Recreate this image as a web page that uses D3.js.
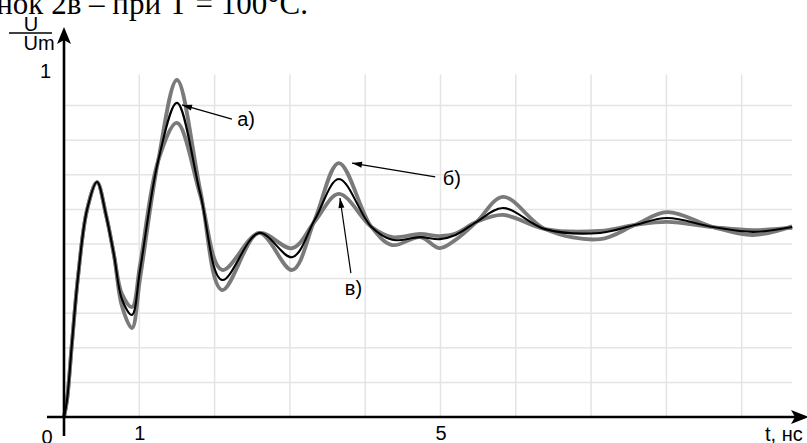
<!DOCTYPE html>
<html>
<head>
<meta charset="utf-8">
<script src="https://cdn.jsdelivr.net/npm/d3@7"></script>
<style>
  body { margin: 0; background: #fff; }
  svg { display: block; }
</style>
</head>
<body>
<svg id="chart" width="807" height="443"></svg>
<script>
// time, ns
const times = [0, 0.04, 0.106, 0.186, 0.305, 0.438, 0.558, 0.664, 0.77, 0.903, 1.01, 1.25, 1.5, 1.81, 2.1,
  2.59, 3.03, 3.33, 3.65, 4.08, 4.36, 4.73, 4.99, 5.2, 5.48, 5.83, 6.39, 7.12, 7.58, 8.01, 8.62, 9.15, 9.67];
// U/Um, curve a)
const curveA = [0, 0.049, 0.214, 0.405, 0.598, 0.679, 0.584, 0.468, 0.34, 0.295, 0.425, 0.74, 0.908, 0.645, 0.396,
  0.532, 0.462, 0.57, 0.688, 0.55, 0.512, 0.52, 0.514, 0.526, 0.564, 0.604, 0.543, 0.532, 0.555, 0.575, 0.549, 0.535, 0.549];
// curve б)
const curveB = [0, 0.049, 0.214, 0.405, 0.598, 0.679, 0.584, 0.468, 0.32, 0.257, 0.4, 0.74, 0.974, 0.655, 0.367,
  0.532, 0.425, 0.57, 0.734, 0.55, 0.497, 0.52, 0.488, 0.512, 0.564, 0.636, 0.543, 0.514, 0.555, 0.592, 0.549, 0.526, 0.551];
// curve в)
const curveV = [0, 0.049, 0.214, 0.405, 0.598, 0.679, 0.584, 0.468, 0.355, 0.318, 0.44, 0.74, 0.85, 0.64, 0.425,
  0.532, 0.488, 0.565, 0.645, 0.55, 0.52, 0.529, 0.523, 0.53, 0.564, 0.584, 0.543, 0.538, 0.555, 0.564, 0.549, 0.54, 0.547];

const xTickValues = [1, 5];
const yTickValues = [1];
const xGridValues = [1, 2, 3, 4, 5, 6, 7, 8, 9];
const yGridValues = [0.1, 0.2, 0.3, 0.4, 0.5, 0.6, 0.7, 0.8, 0.9];

// label, text position, arrow start, arrow tip (data units)
const notes = [
  { text: 'а)', at: [2.3, 0.841], from: [2.23, 0.861], to: [1.567, 0.902] },
  { text: 'б)', at: [5.03, 0.671], from: [4.93, 0.694], to: [3.825, 0.734] },
  { text: 'в)', at: [3.73, 0.353], from: [3.81, 0.416], to: [3.665, 0.633] },
];

const svg = d3.select('#chart');
const x = d3.scaleLinear().domain([0, 10]).range([64, 817]);
const y = d3.scaleLinear().domain([0, 1]).range([417, 71]);
const font = 'Liberation Sans, Arial, sans-serif';

// caption from the page above, cut off by the top edge
svg.append('text')
  .attr('x', 308)
  .attr('y', 14)
  .attr('text-anchor', 'end')
  .attr('font-family', 'Liberation Serif, Times New Roman, serif')
  .attr('font-size', 31)
  .text('Рисунок 2в – при Т = 100°С.');

// grid
svg.append('g')
  .selectAll('line')
  .data(xGridValues)
  .enter()
  .append('line')
  .attr('x1', d => x(d))
  .attr('x2', d => x(d))
  .attr('y1', y(0))
  .attr('y2', y(0.99))
  .attr('stroke', '#e4e4e4')
  .attr('stroke-width', 1.5);

svg.append('g')
  .selectAll('line')
  .data(yGridValues)
  .enter()
  .append('line')
  .attr('x1', x(0))
  .attr('x2', x(9.67))
  .attr('y1', d => y(d))
  .attr('y2', d => y(d))
  .attr('stroke', '#e4e4e4')
  .attr('stroke-width', 1.5);

// curves
const line = d3.line()
  .x((d, i) => x(times[i]))
  .y(d => y(d))
  .curve(d3.curveCatmullRom.alpha(0.5));

[curveB, curveV].forEach((vals) => {
  svg.append('path')
    .datum(vals)
    .attr('d', line)
    .attr('fill', 'none')
    .attr('stroke', '#7a7a7a')
    .attr('stroke-width', 3.8)
    .attr('stroke-linejoin', 'round');
});

svg.append('path')
  .datum(curveA)
  .attr('d', line)
  .attr('fill', 'none')
  .attr('stroke', '#000')
  .attr('stroke-width', 2.1)
  .attr('stroke-linejoin', 'round');

// axes
svg.append('line')
  .attr('x1', x(0)).attr('x2', x(0))
  .attr('y1', 436).attr('y2', 40)
  .attr('stroke', '#000').attr('stroke-width', 2.6);
svg.append('path')
  .attr('d', `M${x(0)},27 L${x(0) + 7},44 L${x(0)},40 L${x(0) - 7},44 Z`)
  .attr('fill', '#000');

svg.append('line')
  .attr('x1', 47).attr('x2', 795)
  .attr('y1', y(0)).attr('y2', y(0))
  .attr('stroke', '#000').attr('stroke-width', 2.6);
svg.append('path')
  .attr('d', `M809,${y(0)} L791,${y(0) - 7} L795,${y(0)} L791,${y(0) + 7} Z`)
  .attr('fill', '#000');

const xAxis = svg.append('g')
  .attr('transform', `translate(0,${y(0)})`)
  .call(d3.axisBottom(x).tickValues(xTickValues).tickSize(0).tickPadding(9).tickFormat(d3.format('d')));
const yAxis = svg.append('g')
  .attr('transform', `translate(${x(0)},0)`)
  .call(d3.axisLeft(y).tickValues(yTickValues).tickSize(0).tickPadding(13).tickFormat(d3.format('d')));
[xAxis, yAxis].forEach((ax) => {
  ax.select('.domain').remove();
  ax.selectAll('text')
    .attr('font-family', font)
    .attr('font-size', 20)
    .attr('fill', '#000');
});

svg.append('text')
  .attr('x', 47).attr('y', 444)
  .attr('text-anchor', 'middle')
  .attr('font-family', font).attr('font-size', 20)
  .text('0');

svg.append('text')
  .attr('x', 765).attr('y', 441)
  .attr('font-family', font).attr('font-size', 20)
  .text('t, нс');

// y label U / Um
svg.append('text')
  .attr('x', 31).attr('y', 31)
  .attr('text-anchor', 'middle')
  .attr('font-family', font).attr('font-size', 20)
  .text('U');
svg.append('line')
  .attr('x1', 9).attr('x2', 52)
  .attr('y1', 33).attr('y2', 33)
  .attr('stroke', '#000').attr('stroke-width', 1.5);
svg.append('text')
  .attr('x', 39).attr('y', 50)
  .attr('text-anchor', 'middle')
  .attr('font-family', font).attr('font-size', 20)
  .text('Um');

// annotations
const noteG = svg.append('g')
  .selectAll('g')
  .data(notes)
  .enter()
  .append('g');

noteG.append('line')
  .attr('x1', d => x(d.from[0]))
  .attr('y1', d => y(d.from[1]))
  .attr('x2', d => x(d.to[0]))
  .attr('y2', d => y(d.to[1]))
  .attr('stroke', '#000')
  .attr('stroke-width', 1.2);

noteG.append('path')
  .attr('d', (d) => {
    const x1 = x(d.from[0]); const y1 = y(d.from[1]);
    const x2 = x(d.to[0]); const y2 = y(d.to[1]);
    const a = Math.atan2(y2 - y1, x2 - x1);
    const len = 10; const w = 3;
    const bx = x2 - len * Math.cos(a); const by = y2 - len * Math.sin(a);
    return `M${x2},${y2} L${bx + w * Math.sin(a)},${by - w * Math.cos(a)} L${bx - w * Math.sin(a)},${by + w * Math.cos(a)} Z`;
  })
  .attr('fill', '#000');

noteG.append('text')
  .attr('x', d => x(d.at[0]))
  .attr('y', d => y(d.at[1]))
  .attr('font-family', font)
  .attr('font-size', 20)
  .text(d => d.text);
</script>
</body>
</html>
